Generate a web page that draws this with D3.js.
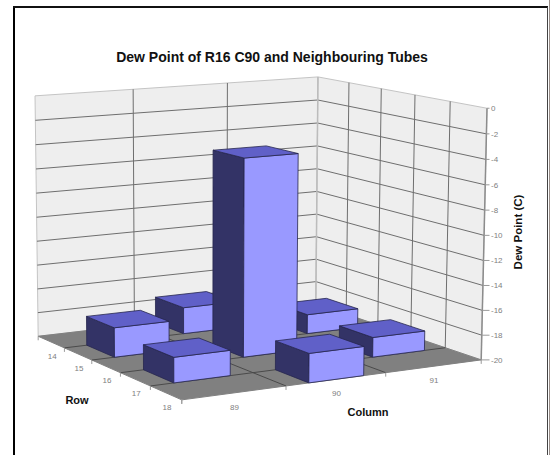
<!DOCTYPE html>
<html>
<head>
<meta charset="utf-8">
<script src="https://cdnjs.cloudflare.com/ajax/libs/d3/7.8.5/d3.min.js"></script>
<style>
html,body{margin:0;padding:0;background:#fff}
svg{display:block}
text{font-family:"Liberation Sans",Arial,sans-serif}
</style>
</head>
<body>
<svg id="chart" width="550" height="455"></svg>
<script>
// Dew point readings for the tube and its staggered neighbours
const columns = [89, 90, 91];
const rows = [14, 15, 16, 17, 18];
const valueTicks = [0, -2, -4, -6, -8, -10, -12, -14, -16, -18, -20];
const barColumns = [90, 89, 91, 90, 89, 91, 90];
const barRows = [14, 15, 15, 16, 17, 17, 18];
const barValues = [-17.8, -17.6, -18.4, -4.0, -18, -18.4, -17.7];

const svg = d3.select("#chart");

// Camera fit: unit-cube corners (column, row, height) and where they land on the page
const cubeCorners = [
  [0,0,0,38,336],[1,0,0,316,304],[1,1,0,481,360],[0,1,0,182,400],
  [0,0,1,35,96],[1,0,1,318,77],[1,1,1,487,108]
];

function solve(A, b) {
  const n = b.length, M = A.map((r, i) => [...r, b[i]]);
  for (let i = 0; i < n; i++) {
    let p = i;
    for (let k = i + 1; k < n; k++) if (Math.abs(M[k][i]) > Math.abs(M[p][i])) p = k;
    [M[i], M[p]] = [M[p], M[i]];
    for (let k = 0; k < n; k++) {
      if (k === i) continue;
      const f = M[k][i] / M[i][i];
      for (let j = i; j <= n; j++) M[k][j] -= f * M[i][j];
    }
  }
  return M.map((r, i) => r[n] / r[i]);
}

function fitCamera(points) {
  const A = [], b = [];
  points.forEach(([X, Y, Z, x, y]) => {
    A.push([X, Y, Z, 1, 0, 0, 0, 0, -x * X, -x * Y, -x * Z]); b.push(x);
    A.push([0, 0, 0, 0, X, Y, Z, 1, -y * X, -y * Y, -y * Z]); b.push(y);
  });
  const N = d3.range(11).map(i => d3.range(11).map(j => d3.sum(A, r => r[i] * r[j])));
  const c = d3.range(11).map(i => d3.sum(A, (r, k) => r[i] * b[k]));
  return solve(N, c);
}

const cam = fitCamera(cubeCorners);
const project = (u, v, w) => {
  const d = cam[8] * u + cam[9] * v + cam[10] * w + 1;
  return [(cam[0] * u + cam[1] * v + cam[2] * w + cam[3]) / d,
          (cam[4] * u + cam[5] * v + cam[6] * w + cam[7]) / d];
};

// Scales from data space into the unit cube
const colBand = d3.scaleBand().domain(columns).range([0, 1]).paddingInner(0.45).paddingOuter(0.225);
const rowBand = d3.scaleBand().domain(rows).range([0, 1]).paddingInner(0).paddingOuter(0);
const colEdge = d3.scaleLinear().domain([0, columns.length]).range([0, 1]);
const rowEdge = d3.scaleLinear().domain([0, rows.length]).range([0, 1]);
const height = d3.scaleLinear().domain([-20, 0]).range([0, 1]);

const path = d3.line();
const poly = pts => path(pts) + "Z";
const seg = (a, b, color, width) => svg.append("path")
  .attr("d", path([a, b])).attr("stroke", color).attr("stroke-width", width).attr("fill", "none");

// Page frame
svg.append("rect").attr("x", 13).attr("y", 7).attr("width", 2).attr("height", 448).attr("fill", "#000");
svg.append("rect").attr("x", 13).attr("y", 6).attr("width", 535).attr("height", 2).attr("fill", "#111");
svg.append("rect").attr("x", 547).attr("y", 7).attr("width", 1).attr("height", 448).attr("fill", "#444");
svg.append("rect").attr("x", 549).attr("y", 0).attr("width", 1).attr("height", 455).attr("fill", "#9a8f8a");

// Walls and floor
const wallFill = "#eeeeee", gridColor = "#6e6e6e", edgeColor = "#c4c4c4";
svg.append("path").attr("d", poly([project(0,0,0), project(1,0,0), project(1,0,1), project(0,0,1)]))
  .attr("fill", wallFill).attr("stroke", edgeColor);
svg.append("path").attr("d", poly([project(1,0,0), project(1,1,0), project(1,1,1), project(1,0,1)]))
  .attr("fill", wallFill).attr("stroke", edgeColor);
svg.append("path").attr("d", poly([project(0,0,0), project(1,0,0), project(1,1,0), project(0,1,0)]))
  .attr("fill", "#808080").attr("stroke", "#808080");

d3.range(1, columns.length).forEach(i => {
  const u = colEdge(i);
  seg(project(u,0,0), project(u,0,1), gridColor, 1);
  seg(project(u,0,0), project(u,1,0), "#4a4a4a", 1);
});
d3.range(1, rows.length).forEach(i => {
  const v = rowEdge(i);
  seg(project(1,v,0), project(1,v,1), gridColor, 1);
  seg(project(0,v,0), project(1,v,0), "#4a4a4a", 1);
});
valueTicks.filter(t => t !== -20 && t !== 0).forEach(t => {
  const w = height(t);
  seg(project(0,0,w), project(1,0,w), gridColor, 1);
  seg(project(1,0,w), project(1,1,w), gridColor, 1);
});
seg(project(1,0,0), project(1,0,1), "#bcbcbc", 1.5);
seg(project(1,1,0), project(1,1,1), "#8c8c8c", 1.5);

// Value axis on the right wall edge
const tickColor = "#9a9a9a", labelColor = "#808080";
valueTicks.forEach(t => {
  const p = project(1, 1, height(t));
  seg(p, [489.5, p[1]], tickColor, 1);
  svg.append("text").attr("x", 491).attr("y", p[1]).attr("dy", "0.35em")
    .attr("font-size", 8).attr("fill", labelColor).text(t);
});

// Row axis along the left floor edge
d3.range(0, rows.length + 1).forEach(i => {
  const p = project(0, rowEdge(i), 0);
  seg(p, [p[0], p[1] + 4], tickColor, 1);
});
rows.forEach((r, i) => {
  const p = project(0, rowEdge(i + 0.5), 0);
  svg.append("text").attr("x", p[0] + 1).attr("y", p[1] + 14).attr("dy", "0.35em")
    .attr("text-anchor", "middle").attr("font-size", 8).attr("fill", labelColor).text(r);
});

// Column axis along the front floor edge
d3.range(0, columns.length + 1).forEach(i => {
  const p = project(colEdge(i), 1, 0);
  seg(p, [p[0], p[1] + 4], tickColor, 1);
});
columns.forEach((c, i) => {
  const p = project(colEdge(i + 0.5), 1, 0);
  svg.append("text").attr("x", p[0]).attr("y", p[1] + 14).attr("dy", "0.35em")
    .attr("text-anchor", "middle").attr("font-size", 8).attr("fill", labelColor).text(c);
});

// Bars, painted from the back row forward
const bars = barValues.map((value, i) => ({ value, col: barColumns[i], row: barRows[i] }));
d3.sort(bars, d => d.row).forEach(d => {
  const u0 = colBand(d.col), u1 = u0 + colBand.bandwidth();
  const v0 = rowBand(d.row), v1 = v0 + rowBand.bandwidth();
  const w = height(d.value);
  const faces = [
    [[[u0,v0,0],[u0,v1,0],[u0,v1,w],[u0,v0,w]], "#333366"],
    [[[u0,v1,0],[u1,v1,0],[u1,v1,w],[u0,v1,w]], "#9999ff"],
    [[[u0,v0,w],[u0,v1,w],[u1,v1,w],[u1,v0,w]], "#6060c8"]
  ];
  const g = svg.append("g");
  faces.forEach(([corners, fill]) => {
    g.append("path").attr("d", poly(corners.map(c => project(...c))))
      .attr("fill", fill).attr("stroke", "#26264e").attr("stroke-width", 0.8).attr("stroke-linejoin", "round");
  });
});

// Titles
svg.append("text").attr("x", 272).attr("y", 57.5).attr("dy", "0.35em").attr("text-anchor", "middle")
  .attr("font-size", 14).attr("font-weight", "bold").attr("fill", "#111")
  .text("Dew Point of R16 C90 and Neighbouring Tubes");
svg.append("text").attr("x", 77).attr("y", 400).attr("dy", "0.35em").attr("text-anchor", "middle")
  .attr("font-size", 11).attr("font-weight", "bold").attr("fill", "#111").text("Row");
svg.append("text").attr("x", 368).attr("y", 412).attr("dy", "0.35em").attr("text-anchor", "middle")
  .attr("font-size", 11).attr("font-weight", "bold").attr("fill", "#111").text("Column");
svg.append("text").attr("transform", "translate(518,232) rotate(-90)").attr("dy", "0.35em").attr("text-anchor", "middle")
  .attr("font-size", 11.5).attr("font-weight", "bold").attr("fill", "#111").text("Dew Point (C)");
</script>
</body>
</html>
